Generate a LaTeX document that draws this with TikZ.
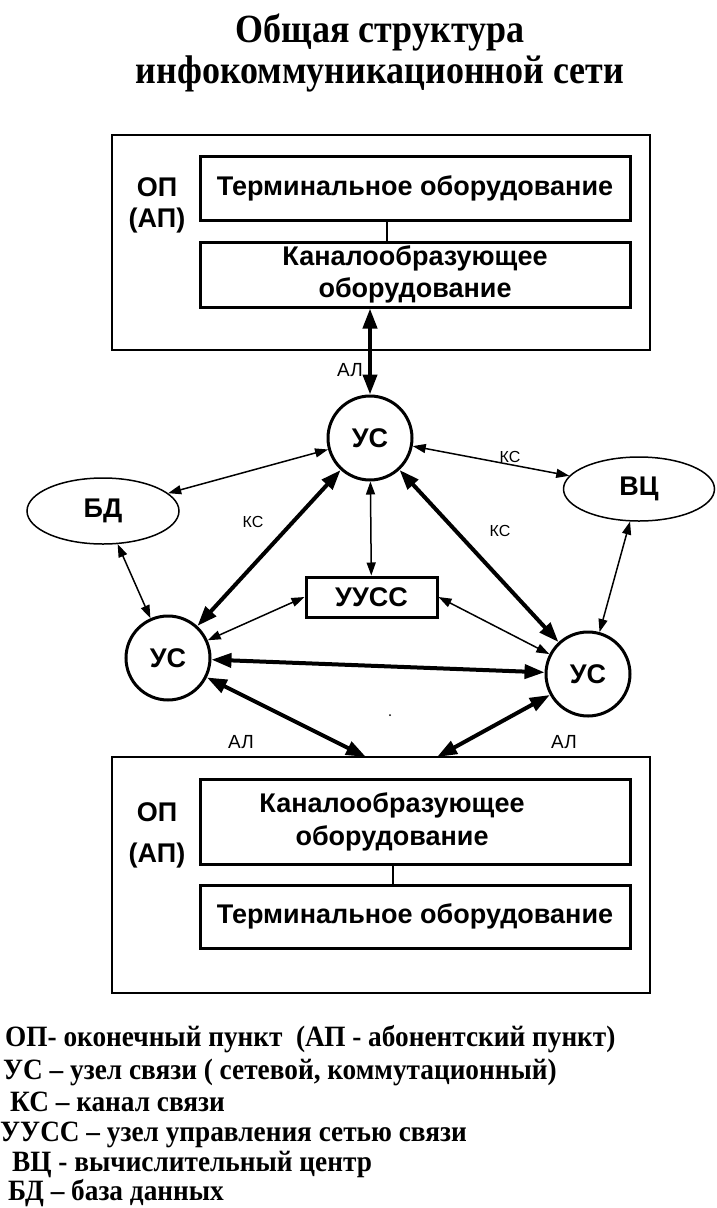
\documentclass[tikz,border=0pt]{standalone}
\usepackage{fontspec}
\setmainfont{Liberation Serif}
\newfontfamily\arial{Liberation Sans}
\newfontfamily\titlef[FakeStretch=0.9]{Liberation Serif}
\newfontfamily\legfont[FakeStretch=0.925]{Liberation Serif}
\usetikzlibrary{arrows.meta,shapes.geometric}
\tikzset{
  outerbox/.style={draw, line width=1.5pt, inner sep=0pt},
  innerbox/.style={draw, line width=3pt, minimum width=430pt, inner sep=0pt, align=center,
    font=\arial\bfseries\fontsize{27}{32}\selectfont},
  boxtext/.style={inner sep=0pt, align=center, font=\arial\bfseries\fontsize{27}{33}\selectfont},
  bold27/.style={font=\arial\bfseries\fontsize{27}{30}\selectfont},
  circnode/.style={circle, draw, line width=3pt, minimum size=84pt, inner sep=0pt,
    font=\arial\bfseries\fontsize{27}{30}\selectfont},
  ellnode/.style={ellipse, draw, line width=1.5pt, inner sep=0pt,
    font=\arial\bfseries\fontsize{27}{30}\selectfont},
  thinarr/.style={line width=1.5pt, {Triangle[length=13pt,width=9pt]}-{Triangle[length=13pt,width=9pt]}},
  thickarr/.style={line width=4pt, {Triangle[length=20pt,width=14pt]}-{Triangle[length=20pt,width=14pt]}},
  smalllbl/.style={font=\arial\fontsize{16}{18}\selectfont},
  allbl/.style={font=\arial\fontsize{19}{20}\selectfont},
  titleline/.style={anchor=base, inner sep=0pt, font=\titlef\bfseries\fontsize{40}{44}\selectfont},
  legline/.style={anchor=base west, inner sep=0pt, font=\legfont\bfseries\fontsize{29.5}{31}\selectfont}
}
\begin{document}
\begin{tikzpicture}[x=1pt,y=-1pt]
\useasboundingbox (0,0) rectangle (716,1208);
% title
\node[titleline] (title1) at (380,42) {Общая структура};
\node[titleline] (title2) at (380,83) {инфокоммуникационной сети};
% top terminal point
\node[outerbox, minimum width=538pt, minimum height=215pt] (op1) at (381,242.5) {};
\node[innerbox, minimum height=64pt] (term1) at (415,188) {Терминальное оборудование};
\node[innerbox, minimum height=65pt] (kan1) at (415,274.5) {Каналообразующее\\оборудование};
\node[bold27] (op1a) at (157,187) {ОП};
\node[bold27] (op1b) at (157,221) {(АП)};
\draw[line width=2pt] ([xshift=-28pt]term1.south) -- ([xshift=-28pt]kan1.north);
% bottom terminal point
\node[outerbox, minimum width=538pt, minimum height=236pt] (op2) at (381,875) {};
\node[innerbox, minimum height=85pt] (kan2) at (415,821.5) {};
\node[boxtext] (kan2t) at (392,822) {Каналообразующее\\оборудование};
\node[innerbox, minimum height=63pt] (term2) at (415,916.5) {Терминальное оборудование};
\node[bold27] (op2a) at (157,812) {ОП};
\node[bold27] (op2b) at (157,856) {(АП)};
\draw[line width=2pt] ([xshift=-22pt]kan2.south) -- ([xshift=-22pt]term2.north);
% network nodes
\node[circnode] (us1) at (370,438) {УС};
\node[circnode] (us2) at (168,658) {УС};
\node[circnode] (us3) at (588,674) {УС};
\node[ellnode, minimum width=152pt, minimum height=66pt] (bd) at (103,511) {БД};
\node[ellnode, minimum width=151pt, minimum height=64pt] (vc) at (639,489) {ВЦ};
\node[draw, line width=3pt, minimum width=131pt, minimum height=40pt, inner sep=0pt,
  font=\arial\bfseries\fontsize{27}{30}\selectfont] (uuss) at (371.5,597) {УУСС};
\coordinate (b1) at (366,757);
\coordinate (b2) at (437,757);
% connectors
\draw[thickarr] (kan1.south -| us1.north) -- (us1.north);
\draw[thinarr] (us1) -- (bd);
\draw[thinarr] (us1) -- (vc);
\draw[thickarr] (us1) -- (us2);
\draw[thickarr] (us1) -- (us3);
\draw[thinarr] (us1) -- (uuss);
\draw[thinarr] (uuss.west) -- (us2);
\draw[thinarr] (uuss.east) -- (us3);
\draw[thinarr] (bd) -- (us2);
\draw[thinarr] (vc) -- (us3);
\draw[thickarr] (us2) -- (us3);
\draw[thickarr] (us2) -- (b1);
\draw[thickarr] (us3) -- (b2);
\fill (390,715) circle (1pt);
% labels
\node[allbl] (al1) at (350,370) {АЛ};
\node[allbl] (al2) at (241,742) {АЛ};
\node[allbl] (al3) at (564,742) {АЛ};
\node[smalllbl] (ks1) at (510,457) {КС};
\node[smalllbl] (ks2) at (253,522) {КС};
\node[smalllbl] (ks3) at (500,531) {КС};
% legend
\node[legline] (l1) at (5,1046) {ОП- оконечный пункт\ \ (АП - абонентский пункт)};
\node[legline] (l2) at (3,1079) {УС – узел связи ( сетевой, коммутационный)};
\node[legline] (l3) at (10,1111) {КС – канал связи};
\node[legline] (l4) at (0,1141) {УУСС – узел управления сетью связи};
\node[legline] (l5) at (12,1171) {ВЦ - вычислительный центр};
\node[legline] (l6) at (8,1200) {БД – база данных};
\end{tikzpicture}
\end{document}
